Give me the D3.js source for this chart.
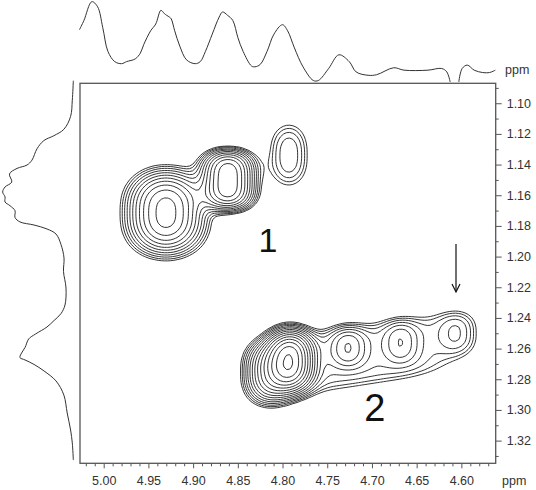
<!DOCTYPE html>
<html><head><meta charset="utf-8">
<script src="https://cdn.jsdelivr.net/npm/d3@7"></script>
<style>body{margin:0;background:#fff}text{font-family:"Liberation Sans",Arial,sans-serif}</style>
</head><body>
<svg id="chart" width="536" height="490"></svg>
<script>
// ---------- data ----------
const xMajorTicks = [5.00, 4.95, 4.90, 4.85, 4.80, 4.75, 4.70, 4.65, 4.60];
const yMajorTicks = [1.10, 1.12, 1.14, 1.16, 1.18, 1.20, 1.22, 1.24, 1.26, 1.28, 1.30, 1.32];
const xMinorTicks = [5.02, 5.01, 4.99, 4.98, 4.97, 4.96, 4.94, 4.93, 4.92, 4.91, 4.89, 4.88, 4.87, 4.86, 4.84, 4.83, 4.82, 4.81, 4.79, 4.78, 4.77, 4.76, 4.74, 4.73, 4.72, 4.71, 4.69, 4.68, 4.67, 4.66, 4.64, 4.63, 4.62, 4.61, 4.59, 4.58, 4.57];
const yMinorTicks = [1.09, 1.11, 1.13, 1.15, 1.17, 1.19, 1.21, 1.23, 1.25, 1.27, 1.29, 1.31, 1.33];

// top 1D projection (F2, ppm) : intensity (NaN = clipped)
const topPpm = [5.0271,5.0221,5.0133,5.0068,5.0011,4.9953,4.9877,4.9800,4.9743,4.9647,4.9590,4.9552,4.9475,4.9418,4.9360,4.9321,4.9295,4.9264,4.9245,4.9206,4.9149,4.9073,4.8977,4.8920,4.8862,4.8786,4.8709,4.8671,4.8614,4.8556,4.8499,4.8441,4.8346,4.8308,4.8249,4.8173,4.8096,4.8001,4.7943,4.7867,4.7771,4.7656,4.7599,4.7484,4.7370,4.7254,4.7177,4.7043,4.6948,4.6757,4.6642,4.6373,4.6220,4.6163,4.6125,4.6080,4.6029,4.5991,4.5933,4.5857,4.5761,4.5685,4.5620];
const topInt = [65.3,76.9,100.4,94.0,68.3,38.3,25.5,22.9,25.5,28.9,36.1,46.9,64.0,72.5,89.6,85.4,83.3,81.1,79.0,64.0,44.8,27.6,22.9,25.5,38.3,59.8,81.1,87.5,83.3,76.9,55.4,38.3,19.9,19.0,22.0,38.3,59.8,71.6,64.0,42.6,19.0,1.9,1.9,16.9,34.0,25.5,12.6,8.4,9.1,17.8,14.8,14.8,16.9,12.6,0,NaN,0,16.9,21.1,14.8,11.8,11.8,14.8];

// left 1D projection (F1, ppm) : intensity
const leftPpm = [1.0853,1.0980,1.1086,1.1170,1.1212,1.1244,1.1297,1.1371,1.1403,1.1425,1.1461,1.1514,1.1546,1.1579,1.1611,1.1644,1.1668,1.1701,1.1745,1.1774,1.1794,1.1820,1.1853,1.1921,1.2009,1.2097,1.2205,1.2316,1.2372,1.2417,1.2459,1.2505,1.2537,1.2593,1.2635,1.2659,1.2674,1.2703,1.2746,1.2811,1.2903,1.3020,1.3131,1.3216,1.3327];
const leftInt = [3.6,5.0,7.3,16.4,30.0,43.6,52.7,59.5,66.2,79.7,89.9,86.8,95.9,99.1,95.9,95.9,89.2,82.4,82.4,75.7,56.8,39.2,27.0,20.3,16.2,16.9,13.5,14.9,20.3,29.7,39.2,54.7,63.9,68.9,74.3,75.7,68.9,56.8,43.2,27.0,16.4,11.9,7.3,5.0,3.6];

// 2D cross peaks: centre (ppm), width (ppm), amplitude, shape exponents, tilt
const peakNames = ["1a","1b","1c","2a","2e","2r","2b","2c","2d"];
const peakX    = [4.9304, 4.8610, 4.7929, 4.7917, 4.8141, 4.7079, 4.7269, 4.6680, 4.6039];
const peakY    = [1.1714, 1.1501, 1.1338, 1.2678, 1.2755, 1.2642, 1.2590, 1.2557, 1.2498];
const peakWX   = [0.0335, 0.0235, 0.0218, 0.0201, 0.0228, 0.1062, 0.0190, 0.0179, 0.0212];
const peakWY   = [0.0226, 0.0172, 0.0205, 0.0163, 0.0175, 0.0215, 0.0124, 0.0130, 0.0137];
const peakAmp  = [10.4, 11.35, 2.4, 20.0, 7.0, 1.9, 3.0, 2.0, 1.8];
const peakPX   = [2, 2, 2, 2, 2, 4, 2, 2, 2];
const peakPY   = [2.6, 3.5, 2.6, 2.6, 2.6, 4, 2.6, 2.6, 2.6];
const peakTilt = [0, 0, 0, 0, 0, 0.0893, 0, 0, 0];

// contour levels (geometric, factor 1.25)
const levels = [1.0, 1.25, 1.5625, 1.953, 2.441, 3.052, 3.815, 4.768, 5.96, 7.45, 9.31, 11.64, 14.55, 18.19, 22.74];

// annotations
const annText = ["1", "2"];
const annSize = [34, 38];
const annX = [4.8163, 4.6967];
const annY = [1.1970, 1.3072];
const arrowX = 4.6060, arrowY0 = 1.1918, arrowY1 = 1.2231;

// ---------- drawing ----------
const svg = d3.select("#chart");
const L = 80, R = 495.7, T = 83.3, B = 463.3;
const x = d3.scaleLinear().domain([5.0265, 4.5616]).range([L, R]);
const y = d3.scaleLinear().domain([1.087, 1.3348]).range([T, B]);
const topScale = d3.scaleLinear().domain([0, 100]).range([82, 2]);
const leftScale = d3.scaleLinear().domain([0, 100]).range([76, 2]);

// grid for contours
const gx0 = 5.03, gdx = -0.0035, gy0 = 1.084, gdy = 0.002;
const nx = Math.ceil((5.03 - 4.558) / 0.0035) + 1;
const ny = Math.ceil((1.337 - 1.084) / 0.002) + 1;
const vals = new Float64Array(nx * ny);
for (let j = 0; j < ny; j++) {
  const py = gy0 + j * gdy;
  for (let i = 0; i < nx; i++) {
    const px = gx0 + i * gdx;
    let v = 0;
    for (let k = 0; k < peakX.length; k++) {
      const dx = px - peakX[k];
      const dy = (py - peakY[k]) - peakTilt[k] * dx;
      const g = Math.pow(Math.abs(dx) / peakWX[k], peakPX[k]) + Math.pow(Math.abs(dy) / peakWY[k], peakPY[k]);
      v += peakAmp[k] * Math.exp(-g);
    }
    vals[j * nx + i] = v;
  }
}
const contours = d3.contours().size([nx, ny]).thresholds(levels)(vals);
const proj = d3.geoTransform({
  point: function(cx, cy) {
    this.stream.point(x(gx0 + (cx - 0.5) * gdx), y(gy0 + (cy - 0.5) * gdy));
  }
});
const path = d3.geoPath(proj);

svg.append("clipPath").attr("id", "plotclip").append("rect")
  .attr("x", L).attr("y", T).attr("width", R - L).attr("height", B - T);

svg.append("g").attr("clip-path", "url(#plotclip)")
  .selectAll("path").data(contours).join("path")
  .attr("d", path).attr("fill", "none").attr("stroke", "#111").attr("stroke-width", 0.85)
  .attr("stroke-linejoin", "round");

// frame
svg.append("rect").attr("x", L).attr("y", T).attr("width", R - L).attr("height", B - T)
  .attr("fill", "none").attr("stroke", "#555").attr("stroke-width", 1.3);

// axes
const axStyle = g => {
  g.select(".domain").remove();
  g.selectAll("line").attr("stroke", "#555").attr("stroke-width", 1);
  g.selectAll("text").attr("fill", "#333").style("font-size", "12.5px")
    .style("font-family", '"Liberation Sans", Arial, sans-serif');
};
svg.append("g").attr("transform", `translate(0,${B})`)
  .call(d3.axisBottom(x).tickValues(xMinorTicks).tickSize(3).tickFormat("")).call(axStyle);
svg.append("g").attr("transform", `translate(0,${B})`)
  .call(d3.axisBottom(x).tickValues(xMajorTicks).tickSize(5).tickPadding(8).tickFormat(d3.format(".2f"))).call(axStyle);
svg.append("g").attr("transform", `translate(${R},0)`)
  .call(d3.axisRight(y).tickValues(yMinorTicks).tickSize(3).tickFormat("")).call(axStyle);
svg.append("g").attr("transform", `translate(${R},0)`)
  .call(d3.axisRight(y).tickValues(yMajorTicks).tickSize(6).tickPadding(5).tickFormat(d3.format(".2f"))).call(axStyle);

svg.append("text").attr("x", 502).attr("y", 485).text("ppm").attr("fill", "#333").style("font-size", "12.5px");
svg.append("text").attr("x", 505).attr("y", 74).text("ppm").attr("fill", "#333").style("font-size", "12.5px");

// projections
const topLine = d3.line().defined(d => !isNaN(d[1])).x(d => x(d[0])).y(d => topScale(d[1])).curve(d3.curveCatmullRom);
svg.append("path").datum(topPpm.map((p, i) => [p, topInt[i]]))
  .attr("d", topLine).attr("fill", "none").attr("stroke", "#333").attr("stroke-width", 1);
const leftLine = d3.line().x(d => leftScale(d[1])).y(d => y(d[0])).curve(d3.curveCatmullRom);
svg.append("path").datum(leftPpm.map((p, i) => [p, leftInt[i]]))
  .attr("d", leftLine).attr("fill", "none").attr("stroke", "#333").attr("stroke-width", 1);

// annotations
svg.selectAll("text.ann").data(annText).join("text").attr("class", "ann")
  .attr("x", (d, i) => x(annX[i])).attr("y", (d, i) => y(annY[i]))
  .attr("text-anchor", "middle").style("font-size", (d, i) => annSize[i] + "px")
  .attr("fill", "#111").text(d => d);

const ax = x(arrowX), ay0 = y(arrowY0), ay1 = y(arrowY1);
svg.append("line").attr("x1", ax).attr("x2", ax).attr("y1", ay0).attr("y2", ay1)
  .attr("stroke", "#111").attr("stroke-width", 1.2);
svg.append("path").attr("d", `M${ax - 4},${ay1 - 8}L${ax},${ay1}L${ax + 4},${ay1 - 8}`)
  .attr("fill", "none").attr("stroke", "#111").attr("stroke-width", 1.2);
</script>
</body></html>
